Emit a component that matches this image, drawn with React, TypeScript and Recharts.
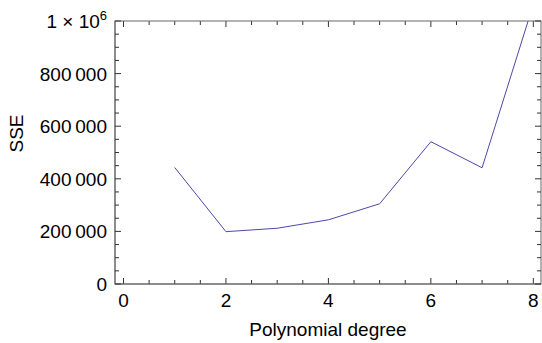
import React from "react";
import { LineChart, Line, XAxis, YAxis } from "recharts";

// polynomial degree vs sum of squared errors
const degrees = [1, 2, 3, 4, 5, 6, 7, 8];
const sse = [443000, 199000, 212000, 244000, 305000, 541000, 442000, 1063000];

const xTicks = [0, 0.5, 1, 1.5, 2, 2.5, 3, 3.5, 4, 4.5, 5, 5.5, 6, 6.5, 7, 7.5, 8];
const yTicks = [
  0, 50000, 100000, 150000, 200000, 250000, 300000, 350000, 400000, 450000,
  500000, 550000, 600000, 650000, 700000, 750000, 800000, 850000, 900000, 950000, 1000000,
];

const xDomain: [number, number] = [-0.166, 8.15];
const yDomain: [number, number] = [0, 1000000];

const data = degrees.map((d, i) => ({ degree: d, sse: sse[i] }));

// layout
const W = 542;
const H = 343;
const MARGIN = { top: 21, right: 1, bottom: 0, left: 0 };
const Y_W = 115;
const X_H = 59;
const PW = W - MARGIN.left - MARGIN.right - Y_W; // plot width
const PH = H - MARGIN.top - MARGIN.bottom - X_H; // plot height

const FONT = "'Liberation Sans', Arial, sans-serif";
const TICK = "#333";
const FRAME = "#666";

const isMajorX = (v: number) => v % 2 === 0;
const isMajorY = (v: number) => v % 200000 === 0;

function fmtY(v: number) {
  if (v === 0) return "0";
  if (v === 1000000)
    return (
      <>
        1 × 10<tspan dy={-8} fontSize={13}>6</tspan>
      </>
    );
  const s = String(v);
  return s.slice(0, s.length - 3) + "\u2009" + s.slice(-3);
}

// bottom tick + mirrored tick on the top frame edge
function BottomTick({ x, y, payload }: any) {
  const major = isMajorX(payload.value);
  const len = major ? 6 : 4;
  return (
    <g>
      <line x1={x} x2={x} y1={y} y2={y - len} stroke={TICK} />
      <line x1={x} x2={x} y1={y - PH} y2={y - PH + len} stroke={TICK} />
      {major && (
        <text x={x} y={y + 23} textAnchor="middle" fontSize={19} fontFamily={FONT} fill="#000">
          {payload.value}
        </text>
      )}
    </g>
  );
}

// left tick + mirrored tick on the right frame edge; the frame box hangs off the 0 tick
function LeftTick({ x, y, payload }: any) {
  const major = isMajorY(payload.value);
  const len = major ? 6 : 4;
  return (
    <g>
      {payload.value === 0 && (
        <rect x={x} y={y - PH} width={PW} height={PH} fill="none" stroke={FRAME} />
      )}
      <line x1={x} x2={x + len} y1={y} y2={y} stroke={TICK} />
      <line x1={x + PW} x2={x + PW - len} y1={y} y2={y} stroke={TICK} />
      {major && (
        <text x={x - 8} y={y + 7} textAnchor="end" fontSize={19} fontFamily={FONT} fill="#000">
          {fmtY(payload.value)}
        </text>
      )}
    </g>
  );
}

export default function App() {
  return (
    <div style={{ position: "absolute", left: 0, top: 0, background: "#fff" }}>
      <LineChart width={W} height={H} data={data} margin={MARGIN}>
        <XAxis
          dataKey="degree"
          type="number"
          domain={xDomain}
          ticks={xTicks}
          interval={0}
          height={X_H}
          tickSize={0}
          tickMargin={0}
          tickLine={false}
          stroke={FRAME}
          tick={<BottomTick />}
          label={{
            value: "Polynomial degree",
            position: "insideBottom",
            offset: 7,
            fontSize: 19,
            fontFamily: FONT,
            fill: "#000",
          }}
        />
        <YAxis
          type="number"
          domain={yDomain}
          allowDataOverflow
          ticks={yTicks}
          interval={0}
          width={Y_W}
          tickSize={0}
          tickMargin={0}
          tickLine={false}
          stroke={FRAME}
          tick={<LeftTick />}
          label={{
            value: "SSE",
            angle: -90,
            position: "insideLeft",
            offset: 16,
            fontSize: 19,
            fontFamily: FONT,
            fill: "#000",
          }}
        />
        <Line
          dataKey="sse"
          type="linear"
          stroke="#4a4aa6"
          strokeWidth={1}
          dot={false}
          isAnimationActive={false}
        />
      </LineChart>
    </div>
  );
}
